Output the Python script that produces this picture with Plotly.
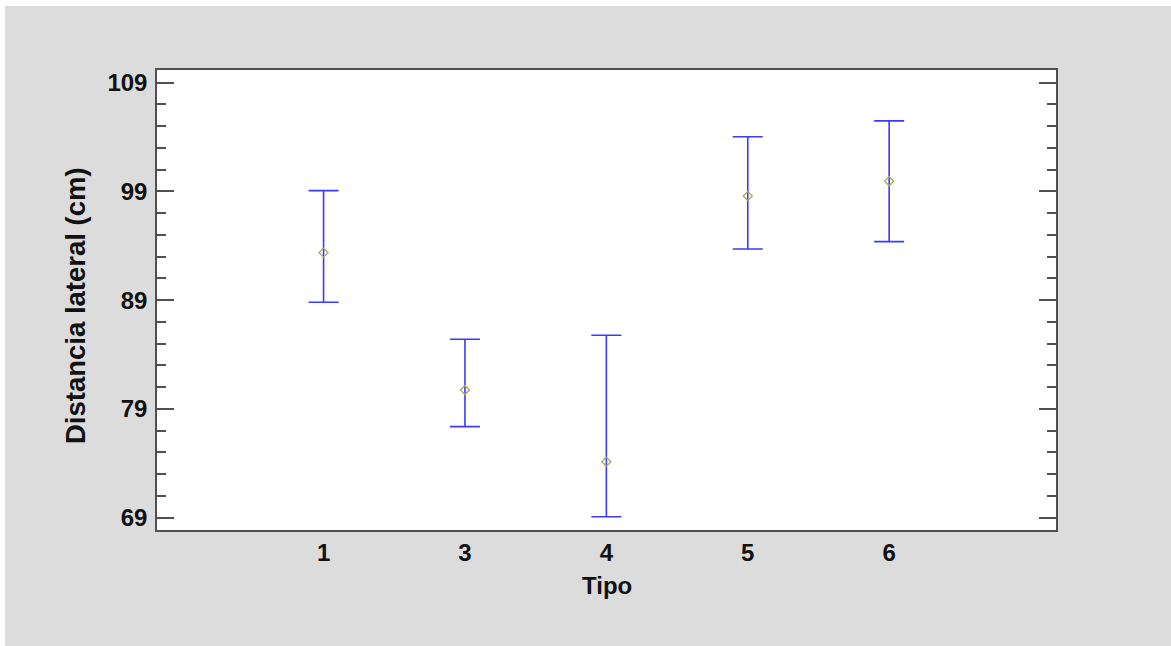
import plotly.graph_objects as go

# Data
tipos = ["1", "3", "4", "5", "6"]
media = [93.37, 80.74, 74.15, 98.58, 99.93]
limite_sup = [99.07, 85.40, 85.77, 104.03, 105.48]
limite_inf = [88.81, 77.37, 69.09, 93.71, 94.38]
y_ticks = [69, 79, 89, 99, 109]

pos = list(range(len(tipos)))
err_plus = [u - m for u, m in zip(limite_sup, media)]
err_minus = [m - l for m, l in zip(media, limite_inf)]

W, H = 1171, 646
L, R, T, B = 157, 1056, 70, 530
pw, ph = R - L, B - T

def px(x):
    return (x - L) / pw

def py(y):
    return (B - y) / ph

fig = go.Figure()
fig.add_trace(go.Scatter(
    x=pos, y=media, mode="markers",
    marker=dict(symbol="diamond-open", size=7, color="#a9a95a", line=dict(width=1.3)),
    error_y=dict(type="data", symmetric=False, array=err_plus, arrayminus=err_minus,
                 color="#3a3aff", thickness=1.6, width=15),
    showlegend=False, hoverinfo="skip",
))

font_family = "Liberation Sans, Arial, sans-serif"
tick_font = dict(family=font_family, size=24, color="#111111")

fig.update_layout(
    width=W, height=H,
    margin=dict(l=L, r=W - R, t=T, b=H - B, pad=0),
    paper_bgcolor="#dcdcdc",
    plot_bgcolor="white",
    font=dict(family=font_family),
    xaxis=dict(
        range=[-1.178, 5.18], tickmode="array", tickvals=pos, ticktext=[f"<b>{t}</b>" for t in tipos],
        showgrid=False, zeroline=False, showline=True, mirror=True,
        linecolor="#505050", linewidth=1.5, ticks="", tickfont=tick_font,
    ),
    yaxis=dict(
        range=[67.87, 110.16], tickmode="array", tickvals=y_ticks,
        ticktext=[f"<b>{v}</b>" for v in y_ticks],
        showgrid=False, zeroline=False, showline=True, mirror="allticks",
        linecolor="#505050", linewidth=1.5, ticks="inside", ticklen=17,
        tickwidth=1.5, tickcolor="#505050", tickfont=tick_font, ticklabelstandoff=3,
        minor=dict(dtick=2, tick0=69, ticks="inside", ticklen=9, tickwidth=1.5,
                   tickcolor="#505050", showgrid=False),
    ),
    shapes=[
        dict(type="rect", xref="paper", yref="paper", x0=px(-10), x1=px(5),
             y0=py(700), y1=py(-10), fillcolor="white", line=dict(width=0), layer="above"),
        dict(type="rect", xref="paper", yref="paper", x0=px(-10), x1=px(1200),
             y0=py(6), y1=py(-10), fillcolor="white", line=dict(width=0), layer="above"),
    ],
    annotations=[
        dict(text="<b>Tipo</b>", xref="paper", yref="paper", x=px(607), y=py(585),
             xanchor="center", yanchor="middle", showarrow=False,
             font=dict(family=font_family, size=24, color="#111111")),
        dict(text="<b>Distancia lateral (cm)</b>", xref="paper", yref="paper", x=px(75), y=py(306),
             xanchor="center", yanchor="middle", showarrow=False, textangle=-90,
             font=dict(family=font_family, size=27.5, color="#111111")),
    ],
)

fig.write_html("out.html", config={"displayModeBar": False},
               post_script="document.body.style.margin='0';")
